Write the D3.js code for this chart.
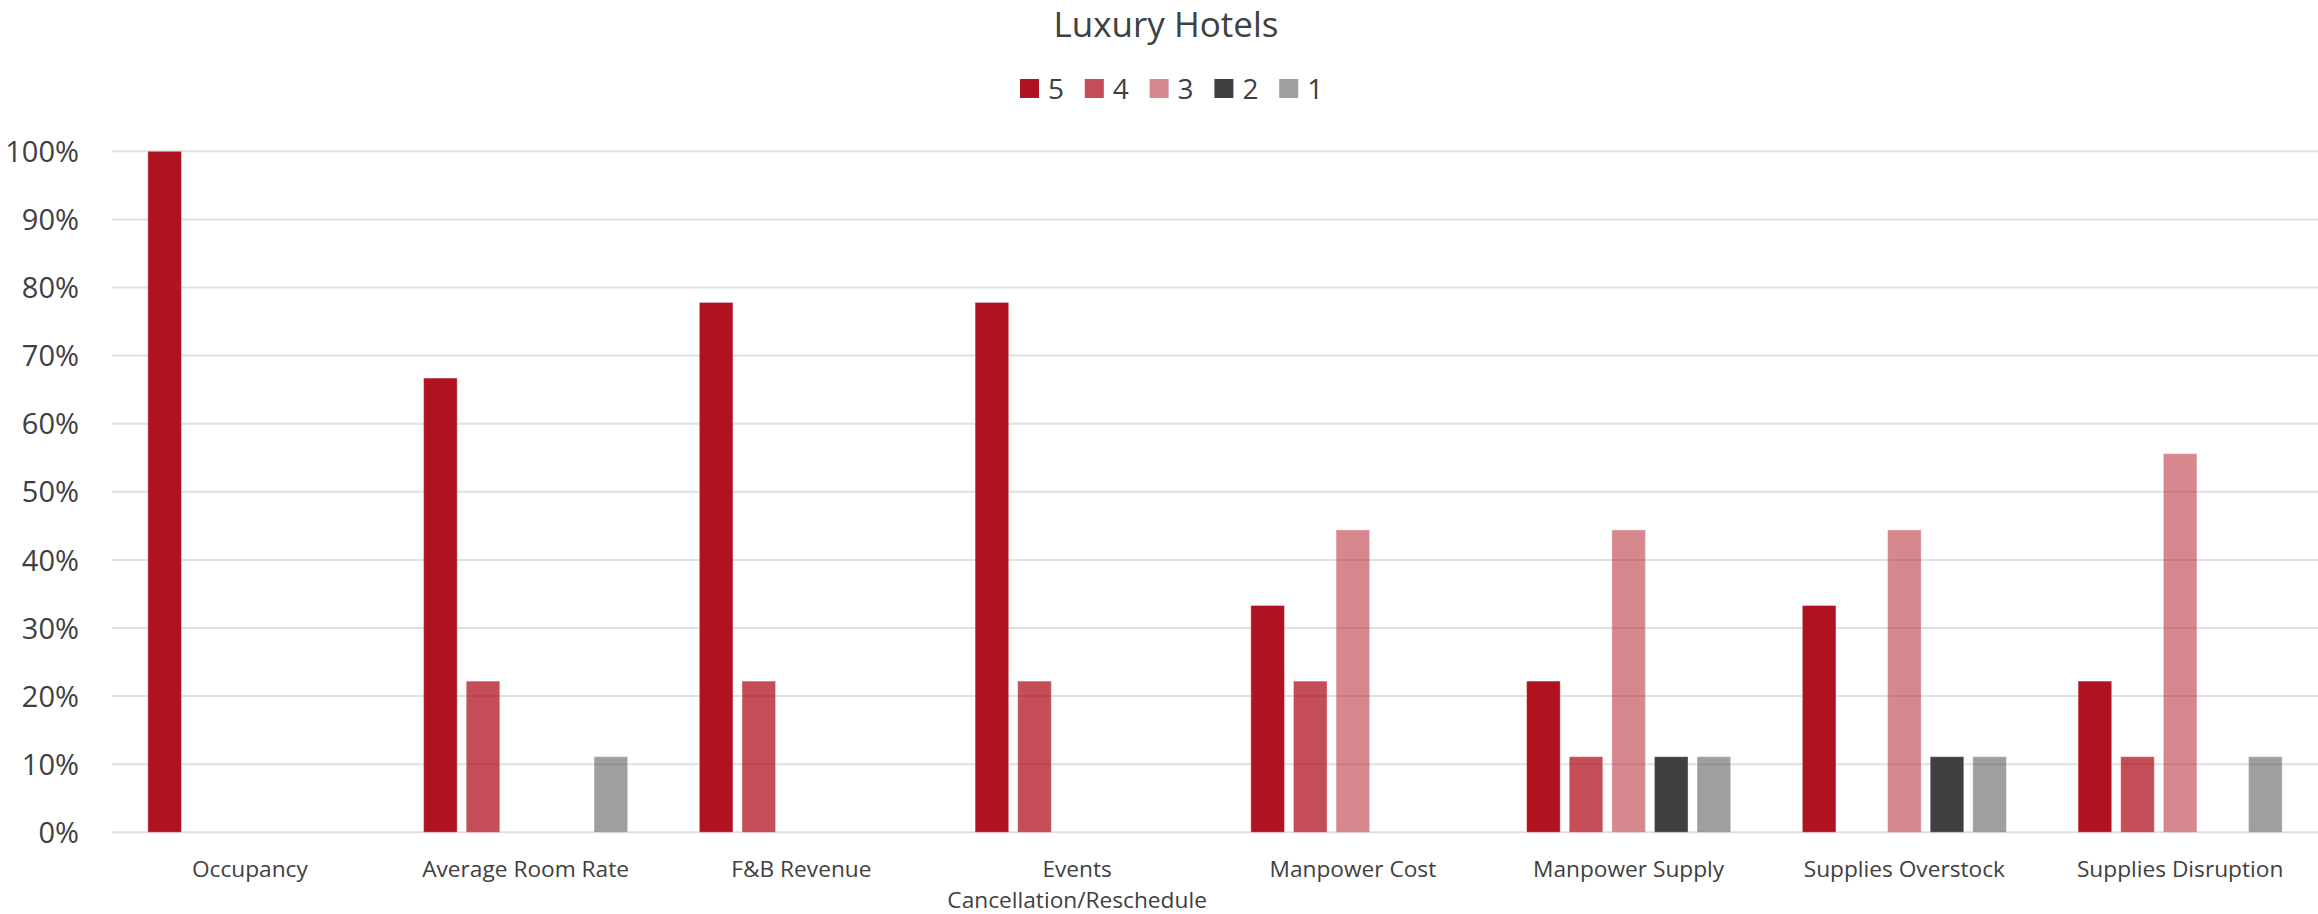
<!DOCTYPE html>
<html>
<head>
<meta charset="utf-8">
<script src="https://cdn.jsdelivr.net/npm/d3@7"></script>
<style>
  html, body { margin: 0; padding: 0; background: #fff; }
  svg { display: block; font-family: "Open Sans", "Noto Sans", sans-serif; }
</style>
</head>
<body>
<svg id="chart" width="2318" height="914"></svg>
<script>
const title = "Luxury Hotels";
const categories = ["Occupancy", "Average Room Rate", "F&B Revenue", "Events Cancellation/Reschedule",
  "Manpower Cost", "Manpower Supply", "Supplies Overstock", "Supplies Disruption"];
const categoryLines = [["Occupancy"], ["Average Room Rate"], ["F&B Revenue"], ["Events", "Cancellation/Reschedule"],
  ["Manpower Cost"], ["Manpower Supply"], ["Supplies Overstock"], ["Supplies Disruption"]];
const seriesNames = ["5", "4", "3", "2", "1"];
const s5 = [1.000, 0.667, 0.778, 0.778, 0.333, 0.222, 0.333, 0.222];
const s4 = [0, 0.222, 0.222, 0.222, 0.222, 0.111, 0, 0.111];
const s3 = [0, 0, 0, 0, 0.444, 0.444, 0.444, 0.556];
const s2 = [0, 0, 0, 0, 0, 0.111, 0.111, 0];
const s1 = [0, 0.111, 0, 0, 0, 0.111, 0.111, 0.111];
const seriesValues = [s5, s4, s3, s2, s1];
const yTicks = [0, 0.1, 0.2, 0.3, 0.4, 0.5, 0.6, 0.7, 0.8, 0.9, 1.0];

const seriesColor = ["#B0121F", "#B0121F", "#B0121F", "#404040", "#404040"];
const seriesOpacity = [1, 0.75, 0.5, 1, 0.5];
const textColor = "#404040";

const svg = d3.select("#chart");
const plotLeft = 112, plotRight = 2318, plotTop = 151.3, plotBottom = 832.3;

const x0 = d3.scaleBand().domain(categories).range([plotLeft, plotRight]).padding(0);
const groupW = x0.bandwidth() * 0.7727;
const x1 = d3.scaleBand().domain(seriesNames)
  .range([(x0.bandwidth() - groupW) / 2, (x0.bandwidth() + groupW) / 2])
  .paddingInner(0.212).paddingOuter(0.106);
const y = d3.scaleLinear().domain([0, 1]).range([plotBottom, plotTop]);

// gridlines
svg.append("g").selectAll("line").data(yTicks).join("line")
  .attr("x1", plotLeft).attr("x2", plotRight)
  .attr("y1", d => y(d)).attr("y2", d => y(d))
  .attr("stroke", "#e0e0e0").attr("stroke-width", 2);

// y axis labels
const yAxis = d3.axisLeft(y).tickValues(yTicks).tickFormat(d3.format(".0%")).tickSize(0).tickPadding(0);
const ya = svg.append("g").attr("transform", `translate(79,0)`).call(yAxis);
ya.select(".domain").remove();
ya.selectAll("text").attr("fill", textColor).attr("font-size", 29)
  .attr("font-family", '"Open Sans", sans-serif').attr("dy", "0.35em");

// bars
const data = [];
categories.forEach((c, ci) => {
  seriesNames.forEach((s, si) => {
    data.push({ c, s, si, v: seriesValues[si][ci] });
  });
});
svg.append("g").selectAll("rect").data(data.filter(d => d.v > 0)).join("rect")
  .attr("x", d => x0(d.c) + x1(d.s))
  .attr("width", x1.bandwidth())
  .attr("y", d => y(d.v))
  .attr("height", d => y(0) - y(d.v))
  .attr("fill", d => seriesColor[d.si])
  .attr("fill-opacity", d => seriesOpacity[d.si])
  .attr("stroke", "#ffffff").attr("stroke-opacity", 0.35).attr("stroke-width", 1);

// category labels
const xa = svg.append("g");
categories.forEach((c, ci) => {
  const t = xa.append("text")
    .attr("x", x0(c) + x0.bandwidth() / 2)
    .attr("y", 877)
    .attr("text-anchor", "middle")
    .attr("fill", textColor)
    .attr("font-size", 22.7);
  categoryLines[ci].forEach((ln, li) => {
    t.append("tspan").attr("x", x0(c) + x0.bandwidth() / 2).attr("dy", li === 0 ? 0 : 30.5).text(ln);
  });
});

// title
svg.append("text").attr("x", 1166).attr("y", 37).attr("text-anchor", "middle")
  .attr("fill", textColor).attr("font-size", 35).text(title);

// legend
const legStep = 64.8;
const legStart = 1020;
const leg = svg.append("g");
seriesNames.forEach((s, i) => {
  const gx = legStart + i * legStep;
  leg.append("rect").attr("x", gx).attr("y", 79).attr("width", 19).attr("height", 19)
    .attr("fill", seriesColor[i]).attr("fill-opacity", seriesOpacity[i]);
  leg.append("text").attr("x", gx + 28).attr("y", 98.5).attr("fill", textColor)
    .attr("font-size", 28).text(s);
});
</script>
</body>
</html>
